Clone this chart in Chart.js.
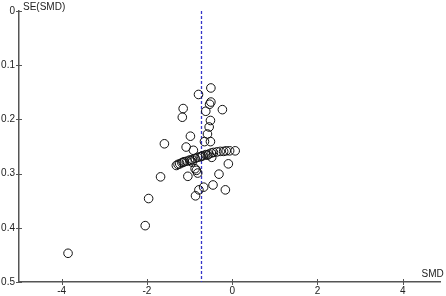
<!DOCTYPE html>
<html>
<head>
<meta charset="utf-8">
<script src="https://cdn.jsdelivr.net/npm/chart.js@4"></script>
<style>
  html, body { margin: 0; padding: 0; background: #fff; overflow: hidden; }
  #wrap { width: 446px; height: 296px; }
</style>
</head>
<body>
<div id="wrap"><canvas id="funnel"></canvas></div>
<script>
// study effects (SMD) and their standard errors
const smd = [-3.85, -2.04, -1.96, -1.68, -1.59, -1.15, -1.17, -0.79, -0.50, -0.50,
    -0.53, -0.23, -0.62, -0.51, -0.54, -0.58, -0.98, -0.65, -0.51, -1.08,
    -1.31, -1.23, -1.18, -1.12, -1.06, -1.00, -0.94, -0.87, -0.81, -0.75,
    -0.69, -0.62, -0.55, -0.49, -0.44, -0.36, -0.28, -0.20, -0.14, -0.06,
    0.07, -0.91, -0.48, -0.94, -0.87, -0.09, -1.04, -0.84, -0.81, -0.31,
    -0.45, -0.67, -0.78, -0.16, -0.86, -1.27, -1.15, -0.97, -0.72, -0.58];
const se = [0.447, 0.396, 0.346, 0.306, 0.245, 0.180, 0.196, 0.154, 0.142, 0.168,
    0.172, 0.182, 0.185, 0.202, 0.214, 0.227, 0.231, 0.241, 0.241, 0.251,
    0.285, 0.282, 0.280, 0.278, 0.277, 0.275, 0.274, 0.272, 0.270, 0.269,
    0.267, 0.265, 0.264, 0.262, 0.261, 0.260, 0.259, 0.259, 0.258, 0.258,
    0.258, 0.257, 0.270, 0.279, 0.291, 0.282, 0.305, 0.294, 0.299, 0.301,
    0.321, 0.325, 0.330, 0.330, 0.341, 0.283, 0.279, 0.276, 0.268, 0.266];
const pooledSMD = -0.72;
const xTicks = [-4, -2, 0, 2, 4];
const yTicks = [0, 0.1, 0.2, 0.3, 0.4, 0.5];

const points = smd.map((v, i) => ({ x: v, y: se[i] }));
const axisColor = '#555';
const font = { family: 'Liberation Sans, Arial, sans-serif', size: 10 };

// ticks that cross the axis line + axis titles
const axisExtras = {
    id: 'axisExtras',
    afterDraw(chart) {
        const c = chart.ctx;
        const xs = chart.scales.x, ys = chart.scales.y;
        const a = chart.chartArea;
        c.save();
        c.strokeStyle = axisColor;
        c.lineWidth = 1;
        xTicks.forEach(v => {
            const px = Math.round(xs.getPixelForValue(v)) + 0.5;
            c.beginPath(); c.moveTo(px, a.bottom - 3); c.lineTo(px, a.bottom + 3); c.stroke();
        });
        yTicks.forEach(v => {
            const py = Math.round(ys.getPixelForValue(v)) + 0.5;
            c.beginPath(); c.moveTo(a.left - 3, py); c.lineTo(a.left + 3, py); c.stroke();
        });
        c.fillStyle = '#222';
        c.font = '10px "Liberation Sans", Arial, sans-serif';
        c.textBaseline = 'middle';
        c.textAlign = 'left';
        c.fillText('SE(SMD)', a.left + 4, a.top - 4);
        c.textAlign = 'right';
        c.fillText('SMD', a.right + 3, a.bottom - 8);
        c.restore();
    }
};

new Chart(document.getElementById('funnel'), {
    type: 'scatter',
    data: {
        datasets: [{
            data: points,
            pointStyle: 'circle',
            pointRadius: 4.3,
            pointBorderWidth: 1,
            borderColor: '#111',
            backgroundColor: 'rgba(255,255,255,0)',
            order: 1
        }, {
            type: 'line',
            data: [{ x: pooledSMD, y: 0 }, { x: pooledSMD, y: 0.5 }],
            borderColor: '#3535c8',
            borderWidth: 1.3,
            borderDash: [3, 2],
            pointRadius: 0,
            fill: false,
            order: 2
        }]
    },
    plugins: [axisExtras],
    options: {
        responsive: true,
        maintainAspectRatio: false,
        animation: false,
        layout: { padding: { top: 11, right: 0, left: 0, bottom: 0 } },
        plugins: { legend: { display: false }, tooltip: { enabled: false } },
        scales: {
            x: {
                type: 'linear',
                min: -5,
                max: 4.89,
                afterBuildTicks: s => { s.ticks = xTicks.map(v => ({ value: v })); },
                afterFit: s => { s.height = 14; },
                grid: { display: false, drawTicks: false },
                border: { display: true, color: axisColor, width: 1.5 },
                ticks: { color: '#222', font: font, padding: 3, maxRotation: 0 }
            },
            y: {
                type: 'linear',
                reverse: true,
                min: 0,
                max: 0.5,
                afterBuildTicks: s => { s.ticks = yTicks.map(v => ({ value: v })); },
                afterFit: s => { s.width = 19; },
                grid: { display: false, drawTicks: false },
                border: { display: true, color: axisColor, width: 1.5 },
                ticks: { color: '#222', font: font, padding: 4, callback: v => String(v) }
            }
        }
    }
});
</script>
</body>
</html>
